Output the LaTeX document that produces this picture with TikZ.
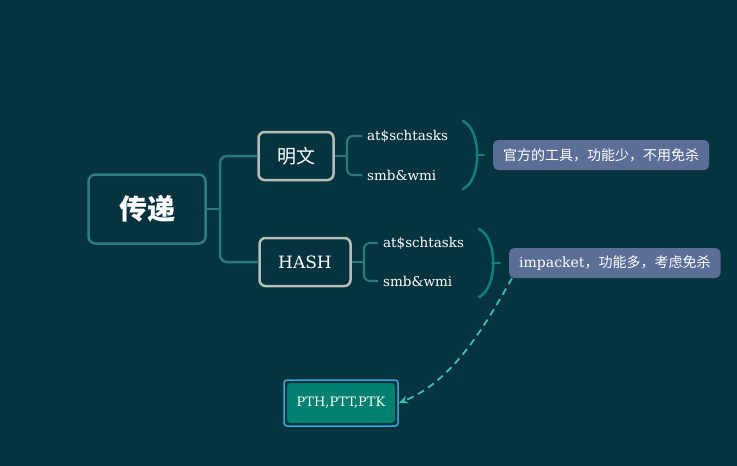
\documentclass[tikz,border=0pt]{standalone}
\usepackage{fontspec}
\setmainfont{DejaVu Serif}
\newfontfamily\cjk{Noto Sans CJK SC}
\usetikzlibrary{positioning,arrows.meta,calc}
\definecolor{bgcolor}{HTML}{05343F}
\definecolor{rootcolor}{HTML}{2D7D7D}
\definecolor{branchcolor}{HTML}{2A7A78}
\definecolor{boxcolor}{HTML}{B4BEB9}
\definecolor{bracecolor}{HTML}{0D8275}
\definecolor{notecolor}{HTML}{5A6E96}
\definecolor{tagfill}{HTML}{00806F}
\definecolor{tagborder}{HTML}{3AA6E0}
\definecolor{dashcolor}{HTML}{3CC0A8}
\tikzset{
    root box/.style={rectangle, rounded corners=7pt, draw=rootcolor, line width=2.5pt, minimum width=117pt, minimum height=69pt, text=white, font=\cjk\bfseries\fontsize{28}{32}\selectfont},
    topic box/.style={rectangle, rounded corners=6pt, draw=boxcolor, line width=2.5pt, minimum height=48pt, text=white, font=\fontsize{17}{20}\selectfont},
    leaf/.style={anchor=west, inner sep=1pt, text=white, font=\fontsize{13.5}{15}\selectfont},
    note/.style={rectangle, rounded corners=5pt, fill=notecolor, minimum height=30pt, inner xsep=10pt, text=white, font=\fontsize{14}{16}\selectfont},
    tag box/.style={rectangle, rounded corners=4pt, fill=tagfill, draw=bgcolor, line width=2pt, minimum width=110pt, minimum height=42pt, text=white, font=\fontsize{13}{15}\selectfont},
    branch/.style={draw=branchcolor, line width=2.5pt, rounded corners=7pt},
    brace/.style={draw=bracecolor, line width=2.5pt, line cap=round},
    link arrow/.style={-{Stealth[length=9pt,width=8pt]}, dashcolor, line width=1.8pt, dash pattern=on 7pt off 5pt}
}
\begin{document}
\begin{tikzpicture}[x=1pt,y=-1pt]
\fill[bgcolor] (0,0) rectangle (737,466);
\useasboundingbox (0,0) rectangle (737,466);

\node[root box] (root) at (147,209) {传递};
\node[topic box, minimum width=75pt] (mw) at (296,156) {\cjk\fontsize{19}{22}\selectfont 明文};
\node[topic box, minimum width=91pt] (hash) at (305,262) {HASH};

\draw[branch] (root.east) -- (220,209);
\draw[branch] (mw.west) -| (220,209) |- (hash.west);

% first group
\node[leaf] (at1) at (366,136) {at\$schtasks};
\node[leaf] (smb1) at (366,175) {smb\&wmi};
\draw[branch, line width=2.2pt] (mw.east) -- (347,156);
\draw[branch, line width=2.2pt, rounded corners=6pt] ([xshift=-4pt]at1.west) -| (347,156) |- ([xshift=-4pt]smb1.west);
\coordinate (p1) at (476,155);
\draw[brace] (463,121) .. controls (482,130) and (482,180) .. (463,189);
\node[note, anchor=west] (note1) at (493,155) {\cjk 官方的工具，功能少，不用免杀};
\draw[brace] (p1) -- ([xshift=-9pt]note1.west);

% second group
\node[leaf] (at2) at (382,243) {at\$schtasks};
\node[leaf] (smb2) at (382,281) {smb\&wmi};
\draw[branch, line width=2.2pt] (hash.east) -- (364,262);
\draw[branch, line width=2.2pt, rounded corners=6pt] ([xshift=-4pt]at2.west) -| (364,262) |- ([xshift=-4pt]smb2.west);
\coordinate (p2) at (492,263);
\draw[brace] (479,229) .. controls (498,238) and (498,288) .. (479,297);
\node[note, anchor=west] (note2) at (509,263) {impacket\cjk ，功能多，考虑免杀};
\draw[brace] (p2) -- ([xshift=-9pt]note2.west);

% target
\node[tag box] (tag) at (341,403) {PTH,PTT,PTK};
\draw[tagborder, line width=1.5pt, rounded corners=3pt] (284,380) rectangle (398,426);
\draw[link arrow] ([xshift=3pt]note2.south west) .. controls (480,335) and (450,382) .. ([xshift=2pt]tag.east);
\end{tikzpicture}
\end{document}
